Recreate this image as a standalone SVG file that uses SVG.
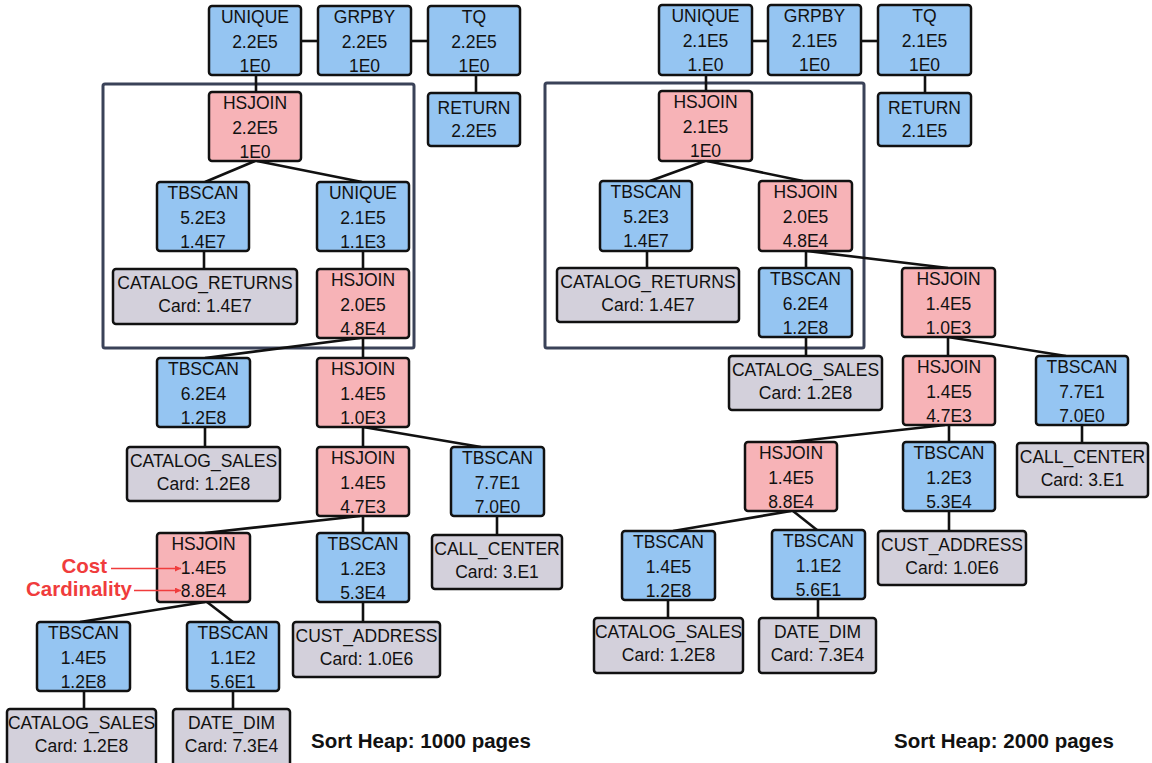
<svg xmlns="http://www.w3.org/2000/svg" width="1152" height="763" viewBox="0 0 1152 763">
<style>
rect.b{fill:#95c5f2;stroke:#111;stroke-width:2.5}
rect.p{fill:#f7b3b7;stroke:#111;stroke-width:2.5}
rect.g{fill:#d3d0db;stroke:#111;stroke-width:2.5}
.box rect{rx:3;ry:3}
.t{font-family:"Liberation Sans",Arial,sans-serif;font-size:17.5px;fill:#111;text-anchor:middle}
.conn path{fill:none;stroke:#111;stroke-width:2.6}
.cont{fill:none;stroke:#3a4258;stroke-width:3}
.ann{font-family:"Liberation Sans",Arial,sans-serif;font-size:20.5px;font-weight:bold;fill:#f03c3c;text-anchor:end}
.annl{stroke:#f03c3c;stroke-width:1.5;fill:none}
.heap{font-family:"Liberation Sans",Arial,sans-serif;font-size:20.5px;font-weight:bold;fill:#111}
</style>
<defs>
<marker id="arr" viewBox="0 0 10 10" refX="10" refY="5" markerWidth="6" markerHeight="6" orient="auto" markerUnits="userSpaceOnUse">
<path d="M0,0 L10,5 L0,10 z" fill="#f03c3c"/>
</marker>
</defs>
<rect width="1152" height="763" fill="#fff"/>
<g id="containers">
<rect class="cont" x="103" y="84" width="311" height="264" rx="2"/>
<rect class="cont" x="545" y="83" width="319" height="265" rx="2"/>
</g>
<g id="connectors" class="conn">
<path d="M301 41H318"/><path d="M411 41H428"/><path d="M476 75V93"/><path d="M256 75V92"/>
<path d="M255 161L205 182"/><path d="M257 161L362 182"/>
<path d="M204 251V269"/><path d="M363 251V269"/>
<path d="M360 338L205 358"/><path d="M363 338V358"/>
<path d="M205 427V447"/>
<path d="M363 427L481 447"/><path d="M363 427V447"/>
<path d="M497 516V535"/>
<path d="M360 516L205 533"/><path d="M363 516V533"/>
<path d="M205 602L80 622"/><path d="M207 602L233 622"/>
<path d="M363 602V622"/>
<path d="M84 691V709"/><path d="M233 691V709"/>
<path d="M752 41H768"/><path d="M861 41H878"/><path d="M925 75V93"/><path d="M706 75V91"/>
<path d="M705 161L650 181"/><path d="M707 161L803 181"/>
<path d="M647 251V268"/><path d="M806 251V268"/>
<path d="M807 251L948 268"/>
<path d="M806 337V356"/>
<path d="M948 337V356"/><path d="M948 337L1066 356"/>
<path d="M1082 425V443"/>
<path d="M945 425L791 442"/><path d="M949 425V442"/>
<path d="M791 511L673 531"/><path d="M793 511L817 530"/>
<path d="M949 511V531"/>
<path d="M668 600V618"/><path d="M818 599V618"/>
</g>
<g class="box">
<g id="L-unique"><rect class="b" x="209" y="6" width="92" height="69"/><text class="t" x="255" y="23">UNIQUE</text><text class="t" x="255" y="47.5">2.2E5</text><text class="t" x="255" y="71.5">1E0</text></g>
<g id="L-grpby"><rect class="b" x="318" y="6" width="93" height="69"/><text class="t" x="364.5" y="23">GRPBY</text><text class="t" x="364.5" y="47.5">2.2E5</text><text class="t" x="364.5" y="71.5">1E0</text></g>
<g id="L-tq"><rect class="b" x="428" y="6" width="92" height="69"/><text class="t" x="474" y="23">TQ</text><text class="t" x="474" y="47.5">2.2E5</text><text class="t" x="474" y="71.5">1E0</text></g>
<g id="L-return"><rect class="b" x="428" y="93" width="92" height="53"/><text class="t" x="474" y="114">RETURN</text><text class="t" x="474" y="137">2.2E5</text></g>
<g id="L-hsjoin1"><rect class="p" x="209" y="92" width="92" height="69"/><text class="t" x="255" y="109">HSJOIN</text><text class="t" x="255" y="133.5">2.2E5</text><text class="t" x="255" y="157.5">1E0</text></g>
<g id="L-tbscan1"><rect class="b" x="157" y="182" width="92" height="69"/><text class="t" x="203" y="199">TBSCAN</text><text class="t" x="203" y="223.5">5.2E3</text><text class="t" x="203" y="247.5">1.4E7</text></g>
<g id="L-unique2"><rect class="b" x="317" y="182" width="92" height="69"/><text class="t" x="363" y="199">UNIQUE</text><text class="t" x="363" y="223.5">2.1E5</text><text class="t" x="363" y="247.5">1.1E3</text></g>
<g id="L-catret"><rect class="g" x="113" y="269" width="184" height="55"/><text class="t" x="205" y="289">CATALOG_RETURNS</text><text class="t" x="205" y="312">Card: 1.4E7</text></g>
<g id="L-hsjoin2"><rect class="p" x="317" y="269" width="92" height="69"/><text class="t" x="363" y="286">HSJOIN</text><text class="t" x="363" y="310.5">2.0E5</text><text class="t" x="363" y="334.5">4.8E4</text></g>
<g id="L-tbscan2"><rect class="b" x="157" y="358" width="93" height="69"/><text class="t" x="203.5" y="375">TBSCAN</text><text class="t" x="203.5" y="399.5">6.2E4</text><text class="t" x="203.5" y="423.5">1.2E8</text></g>
<g id="L-hsjoin3"><rect class="p" x="317" y="358" width="92" height="69"/><text class="t" x="363" y="375">HSJOIN</text><text class="t" x="363" y="399.5">1.4E5</text><text class="t" x="363" y="423.5">1.0E3</text></g>
<g id="L-catsales1"><rect class="g" x="127" y="447" width="153" height="54"/><text class="t" x="203.5" y="467">CATALOG_SALES</text><text class="t" x="203.5" y="490">Card: 1.2E8</text></g>
<g id="L-hsjoin4"><rect class="p" x="317" y="447" width="92" height="69"/><text class="t" x="363" y="464">HSJOIN</text><text class="t" x="363" y="488.5">1.4E5</text><text class="t" x="363" y="512.5">4.7E3</text></g>
<g id="L-tbscan3"><rect class="b" x="451" y="447" width="93" height="69"/><text class="t" x="497.5" y="464">TBSCAN</text><text class="t" x="497.5" y="488.5">7.7E1</text><text class="t" x="497.5" y="512.5">7.0E0</text></g>
<g id="L-hsjoin5"><rect class="p" x="157" y="533" width="93" height="69"/><text class="t" x="203.5" y="550">HSJOIN</text><text class="t" x="203.5" y="574">1.4E5</text><text class="t" x="203.5" y="597">8.8E4</text></g>
<g id="L-tbscan4"><rect class="b" x="317" y="533" width="92" height="69"/><text class="t" x="363" y="550">TBSCAN</text><text class="t" x="363" y="574.5">1.2E3</text><text class="t" x="363" y="598.5">5.3E4</text></g>
<g id="L-callcenter"><rect class="g" x="432" y="535" width="130" height="54"/><text class="t" x="497" y="555">CALL_CENTER</text><text class="t" x="497" y="578">Card: 3.E1</text></g>
<g id="L-tbscan5"><rect class="b" x="37" y="622" width="93" height="69"/><text class="t" x="83.5" y="639">TBSCAN</text><text class="t" x="83.5" y="663.5">1.4E5</text><text class="t" x="83.5" y="687.5">1.2E8</text></g>
<g id="L-tbscan6"><rect class="b" x="187" y="622" width="92" height="69"/><text class="t" x="233" y="639">TBSCAN</text><text class="t" x="233" y="663.5">1.1E2</text><text class="t" x="233" y="687.5">5.6E1</text></g>
<g id="L-custaddr"><rect class="g" x="293" y="622" width="147" height="55"/><text class="t" x="366.5" y="642">CUST_ADDRESS</text><text class="t" x="366.5" y="665">Card: 1.0E6</text></g>
<g id="L-catsales2"><rect class="g" x="7" y="709" width="149" height="60"/><text class="t" x="81.5" y="729">CATALOG_SALES</text><text class="t" x="81.5" y="752">Card: 1.2E8</text></g>
<g id="L-datedim"><rect class="g" x="173" y="709" width="117" height="60"/><text class="t" x="231.5" y="729">DATE_DIM</text><text class="t" x="231.5" y="752">Card: 7.3E4</text></g>

<g id="R-unique"><rect class="b" x="659" y="5" width="93" height="70"/><text class="t" x="705.5" y="22">UNIQUE</text><text class="t" x="705.5" y="46.5">2.1E5</text><text class="t" x="705.5" y="70.5">1.E0</text></g>
<g id="R-grpby"><rect class="b" x="768" y="5" width="93" height="70"/><text class="t" x="814.5" y="22">GRPBY</text><text class="t" x="814.5" y="46.5">2.1E5</text><text class="t" x="814.5" y="70.5">1E0</text></g>
<g id="R-tq"><rect class="b" x="878" y="5" width="93" height="70"/><text class="t" x="924.5" y="22">TQ</text><text class="t" x="924.5" y="46.5">2.1E5</text><text class="t" x="924.5" y="70.5">1E0</text></g>
<g id="R-return"><rect class="b" x="878" y="93" width="93" height="53"/><text class="t" x="924.5" y="114">RETURN</text><text class="t" x="924.5" y="137">2.1E5</text></g>
<g id="R-hsjoin1"><rect class="p" x="659" y="91" width="93" height="70"/><text class="t" x="705.5" y="108">HSJOIN</text><text class="t" x="705.5" y="132.5">2.1E5</text><text class="t" x="705.5" y="156.5">1E0</text></g>
<g id="R-tbscan1"><rect class="b" x="600" y="181" width="92" height="70"/><text class="t" x="646" y="198">TBSCAN</text><text class="t" x="646" y="222.5">5.2E3</text><text class="t" x="646" y="246.5">1.4E7</text></g>
<g id="R-hsjoin2"><rect class="p" x="759" y="181" width="93" height="70"/><text class="t" x="805.5" y="198">HSJOIN</text><text class="t" x="805.5" y="222.5">2.0E5</text><text class="t" x="805.5" y="246.5">4.8E4</text></g>
<g id="R-catret"><rect class="g" x="557" y="268" width="182" height="54"/><text class="t" x="648" y="288">CATALOG_RETURNS</text><text class="t" x="648" y="311">Card: 1.4E7</text></g>
<g id="R-tbscan2"><rect class="b" x="759" y="268" width="93" height="69"/><text class="t" x="805.5" y="285">TBSCAN</text><text class="t" x="805.5" y="309.5">6.2E4</text><text class="t" x="805.5" y="333.5">1.2E8</text></g>
<g id="R-hsjoin3"><rect class="p" x="902" y="268" width="93" height="69"/><text class="t" x="948.5" y="285">HSJOIN</text><text class="t" x="948.5" y="309.5">1.4E5</text><text class="t" x="948.5" y="333.5">1.0E3</text></g>
<g id="R-catsales1"><rect class="g" x="729" y="356" width="153" height="54"/><text class="t" x="805.5" y="376">CATALOG_SALES</text><text class="t" x="805.5" y="399">Card: 1.2E8</text></g>
<g id="R-hsjoin4"><rect class="p" x="903" y="356" width="92" height="69"/><text class="t" x="949" y="373">HSJOIN</text><text class="t" x="949" y="397.5">1.4E5</text><text class="t" x="949" y="421.5">4.7E3</text></g>
<g id="R-tbscan3"><rect class="b" x="1036" y="356" width="92" height="69"/><text class="t" x="1082" y="373">TBSCAN</text><text class="t" x="1082" y="397.5">7.7E1</text><text class="t" x="1082" y="421.5">7.0E0</text></g>
<g id="R-hsjoin5"><rect class="p" x="745" y="442" width="92" height="69"/><text class="t" x="791" y="459">HSJOIN</text><text class="t" x="791" y="483.5">1.4E5</text><text class="t" x="791" y="507.5">8.8E4</text></g>
<g id="R-tbscan4"><rect class="b" x="903" y="442" width="92" height="69"/><text class="t" x="949" y="459">TBSCAN</text><text class="t" x="949" y="483.5">1.2E3</text><text class="t" x="949" y="507.5">5.3E4</text></g>
<g id="R-callcenter"><rect class="g" x="1017" y="443" width="131" height="54"/><text class="t" x="1082.5" y="463">CALL_CENTER</text><text class="t" x="1082.5" y="486">Card: 3.E1</text></g>
<g id="R-tbscan5"><rect class="b" x="622" y="531" width="93" height="69"/><text class="t" x="668.5" y="548">TBSCAN</text><text class="t" x="668.5" y="572.5">1.4E5</text><text class="t" x="668.5" y="596.5">1.2E8</text></g>
<g id="R-tbscan6"><rect class="b" x="772" y="530" width="93" height="69"/><text class="t" x="818.5" y="547">TBSCAN</text><text class="t" x="818.5" y="571.5">1.1E2</text><text class="t" x="818.5" y="595.5">5.6E1</text></g>
<g id="R-custaddr"><rect class="g" x="878" y="531" width="148" height="54"/><text class="t" x="952" y="551">CUST_ADDRESS</text><text class="t" x="952" y="574">Card: 1.0E6</text></g>
<g id="R-catsales2"><rect class="g" x="594" y="618" width="149" height="55"/><text class="t" x="668.5" y="638">CATALOG_SALES</text><text class="t" x="668.5" y="661">Card: 1.2E8</text></g>
<g id="R-datedim"><rect class="g" x="759" y="618" width="117" height="55"/><text class="t" x="817.5" y="638">DATE_DIM</text><text class="t" x="817.5" y="661">Card: 7.3E4</text></g>
</g>
<g id="annotations">
<text class="ann" x="107" y="573">Cost</text>
<text class="ann" x="132" y="596">Cardinality</text>
<path class="annl" d="M111 568.5H181" marker-end="url(#arr)"/>
<path class="annl" d="M134 590.5H181" marker-end="url(#arr)"/>
</g>
<g id="labels">
<text class="heap" x="311" y="748">Sort Heap: 1000 pages</text>
<text class="heap" x="894" y="748">Sort Heap: 2000 pages</text>
</g>
</svg>
